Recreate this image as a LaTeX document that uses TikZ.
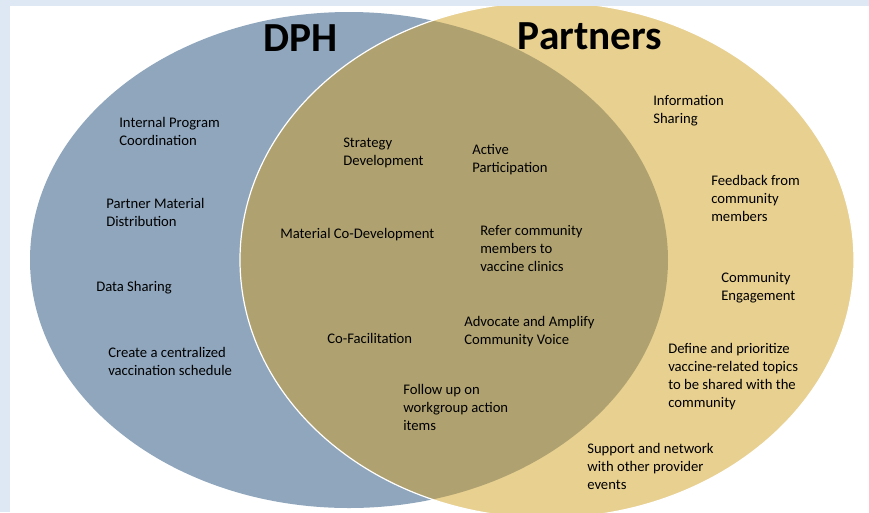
\documentclass[tikz,border=0pt]{standalone}
\usepackage{fontspec}
\setmainfont{Carlito}
\usepackage{xcolor}

\begin{document}
\begin{tikzpicture}[x=0.75pt,y=-0.75pt,
  item/.style={anchor=north west,align=left,inner sep=0pt,
    font=\fontsize{11}{13.4}\selectfont,text=black},
  heading/.style={inner sep=0pt,font=\bfseries\fontsize{31}{36}\selectfont}]
\definecolor{stripblue}{HTML}{DEE8F5}
\definecolor{dphblue}{HTML}{8FA6BD}
\definecolor{partnertan}{HTML}{E8D091}
\definecolor{sharedolive}{HTML}{B0A270}
\useasboundingbox (0,0) rectangle (869,512);
\fill[stripblue] (0,0) rectangle (869,512);
\fill[white] (10,6) rectangle (869,512);
\begin{scope}
  \clip (10,6) rectangle (869,512);
  \fill[dphblue] (349,260) ellipse [x radius=319,y radius=248];
  \fill[partnertan] (547,260) ellipse [x radius=307,y radius=258];
  \begin{scope}
    \clip (349,260) ellipse [x radius=319,y radius=248];
    \fill[sharedolive] (547,260) ellipse [x radius=307,y radius=258];
  \end{scope}
  \draw[white,line width=0.9pt] (547,260) ellipse [x radius=307,y radius=258];
\end{scope}
\node[heading] (dph) at (301,38) {DPH};
\node[heading] (partners) at (590,36) {Partners};
  \foreach \nm/\txt/\x/\y in {
    intprog/{Internal Program\\Coordination}/119/117,
    partmat/{Partner Material\\Distribution}/106/198,
    datashare/{Data Sharing}/96/281,
    centsched/{Create a centralized\\vaccination schedule}/108/347,
    strategy/{Strategy\\Development}/343/138,
    active/{Active\\Participation}/472/144,
    matcodev/{Material Co-Development}/280/228,
    refer/{Refer community\\members to\\vaccine clinics}/480/225,
    cofac/{Co-Facilitation}/327/333,
    advocate/{Advocate and Amplify\\Community Voice}/464/316,
    followup/{Follow up on\\workgroup action\\items}/403/384,
    infoshare/{Information\\Sharing}/653/95,
    feedback/{Feedback from\\community\\members}/711/175,
    commeng/{Community\\Engagement}/721/272,
    define/{Define and prioritize\\vaccine-related topics\\to be shared with the\\community}/668/343,
    support/{Support and network\\with other provider\\events}/587/443}
  {  \node [item] (\nm) at (\x,\y) {\txt};}
\end{tikzpicture}
\end{document}
